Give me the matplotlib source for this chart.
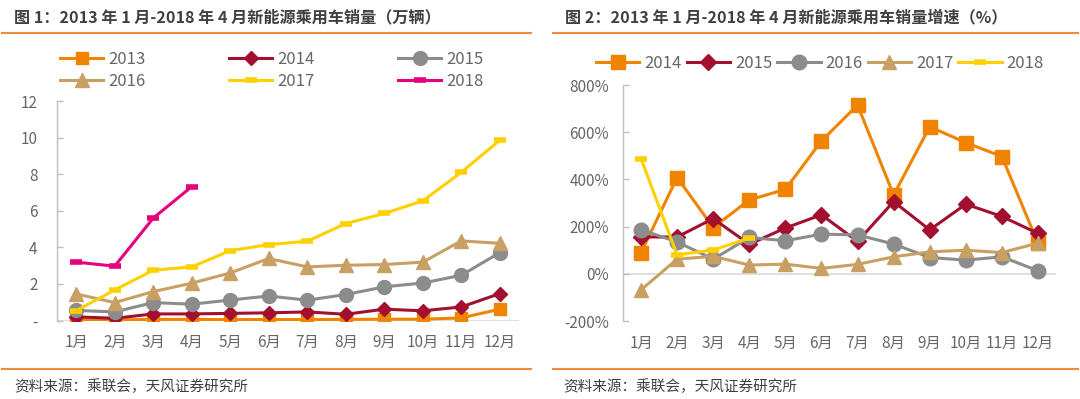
import matplotlib
matplotlib.use('Agg')
import matplotlib.pyplot as plt
from matplotlib.lines import Line2D

plt.rcParams['font.family'] = ['Noto Sans CJK SC', 'DejaVu Sans']

# ---------------- data ----------------
months = ['1月', '2月', '3月', '4月', '5月', '6月', '7月', '8月', '9月', '10月', '11月', '12月']

# Figure 1: monthly sales (10k units)
sales_2013 = [0.04, 0.03, 0.06, 0.06, 0.05, 0.05, 0.05, 0.06, 0.07, 0.07, 0.14, 0.62]
sales_2014 = [0.20, 0.12, 0.36, 0.36, 0.39, 0.42, 0.47, 0.34, 0.62, 0.53, 0.74, 1.47]
sales_2015 = [0.55, 0.47, 0.98, 0.89, 1.12, 1.34, 1.11, 1.42, 1.84, 2.05, 2.47, 3.71]
sales_2016 = [1.45, 0.98, 1.58, 2.04, 2.60, 3.39, 2.93, 3.02, 3.06, 3.19, 4.35, 4.22]
sales_2017 = [0.54, 1.67, 2.75, 2.93, 3.82, 4.15, 4.33, 5.30, 5.85, 6.54, 8.10, 9.85]
sales_2018 = [3.19, 2.97, 5.60, 7.32]
left_yticks = [0, 2, 4, 6, 8, 10, 12]
left_yticklabels = ['-', '2', '4', '6', '8', '10', '12']

# Figure 2: growth rate (%)
growth_2014 = [90, 408, 196, 313, 358, 563, 715, 334, 623, 556, 497, 130]
growth_2015 = [156, 156, 234, 125, 194, 250, 137, 306, 186, 295, 243, 171]
growth_2016 = [187, 135, 62, 154, 140, 168, 165, 126, 69, 58, 72, 13]
growth_2017 = [-68, 62, 74, 37, 41, 23, 40, 72, 93, 100, 90, 130]
growth_2018 = [488, 80, 101, 151]
right_yticks = [-200, 0, 200, 400, 600, 800]
right_yticklabels = ['-200%', '0%', '200%', '400%', '600%', '800%']

# ---------------- styles ----------------
C_ORANGE = '#F08300'
C_RED = '#A3102F'
C_GREY = '#8C8C8C'
C_TAN = '#C9A063'
C_YELLOW = '#FFD000'
C_PINK = '#E6007E'
C_TEXT = '#666666'
C_TITLE = '#404040'
C_RULE = '#EE8B3E'

W, H = 1080, 399
fig = plt.figure(figsize=(W / 100, H / 100), dpi=100)


def fx(px):
    return px / W


def fy(py):
    return 1 - py / H


def style_axes(ax, pad_y):
    for s in ['top', 'right', 'bottom']:
        ax.spines[s].set_visible(False)
    ax.spines['left'].set_color('#BFBFBF')
    ax.spines['left'].set_linewidth(1.0)
    ax.tick_params(axis='y', direction='in', length=4, width=1, color='#BFBFBF',
                   labelsize=11, labelcolor=C_TEXT, pad=pad_y)
    ax.tick_params(axis='x', length=0, labelsize=11, labelcolor=C_TEXT, pad=10)
    ax.set_xlim(0.5, 12.5)


x = list(range(1, 13))

# ---------------- left chart ----------------
axL = fig.add_axes([fx(57), fy(320.5), fx(519 - 57), (320.5 - 101) / H])
style_axes(axL, 14)
axL.set_ylim(0, 12)
axL.axhline(0, color='#D9D9D9', lw=1.2, zorder=1)
axL.set_yticks(left_yticks)
axL.set_yticklabels(left_yticklabels)
axL.set_xticks(x)
axL.set_xticklabels(months)

lw = 2.2
l13, = axL.plot(x, sales_2013, color=C_ORANGE, lw=lw, marker='s', ms=8.5, label='2013', zorder=3)
l14, = axL.plot(x, sales_2014, color=C_RED, lw=lw, marker='D', ms=7.5, label='2014', zorder=3)
l15, = axL.plot(x, sales_2015, color=C_GREY, lw=lw, marker='o', ms=10, label='2015', zorder=3)
l16, = axL.plot(x, sales_2016, color=C_TAN, lw=lw, marker='^', ms=10, label='2016', zorder=3)
l17, = axL.plot(x, sales_2017, color=C_YELLOW, lw=lw, marker='_', ms=9, mew=4, label='2017', zorder=3)
l18, = axL.plot(x[:len(sales_2018)], sales_2018, color=C_PINK, lw=lw, marker='_', ms=8, mew=4,
                label='2018', zorder=3)

handlesL = [l13, l16, l14, l17, l15, l18]
fig.legend(handles=handlesL, labels=[h.get_label() for h in handlesL], ncol=3,
           loc='upper left', bbox_to_anchor=(fx(60), fy(51)), frameon=False,
           fontsize=12, labelcolor=C_TEXT, handlelength=2.6, handletextpad=0.3,
           columnspacing=5.0, labelspacing=0.3, borderaxespad=0, borderpad=0)

# ---------------- right chart ----------------
axR = fig.add_axes([fx(623), fy(321), fx(1056 - 623), (321 - 85) / H])
style_axes(axR, 10)
axR.set_ylim(-200, 800)
axR.axhline(0, color='#D9D9D9', lw=1.2, zorder=1)
axR.set_yticks(right_yticks)
axR.set_yticklabels(right_yticklabels)
axR.set_xticks(x)
axR.set_xticklabels(months)

r14, = axR.plot(x, growth_2014, color=C_ORANGE, lw=lw, marker='s', ms=10, label='2014', zorder=3)
r15, = axR.plot(x, growth_2015, color=C_RED, lw=lw, marker='D', ms=8.5, label='2015', zorder=3)
r16, = axR.plot(x, growth_2016, color=C_GREY, lw=lw, marker='o', ms=10.5, label='2016', zorder=3)
r17, = axR.plot(x, growth_2017, color=C_TAN, lw=lw, marker='^', ms=10.5, label='2017', zorder=3)
r18, = axR.plot(x[:len(growth_2018)], growth_2018, color=C_YELLOW, lw=lw, marker='_', ms=9, mew=4,
                label='2018', zorder=3)

handlesR = [r14, r15, r16, r17, r18]
fig.legend(handles=handlesR, labels=[h.get_label() for h in handlesR], ncol=5,
           loc='upper left', bbox_to_anchor=(fx(596), fy(55)), frameon=False,
           fontsize=12, labelcolor=C_TEXT, handlelength=2.6, handletextpad=0.3,
           columnspacing=0.3, borderaxespad=0, borderpad=0)

# ---------------- titles, rules, sources ----------------
fig.text(fx(14), fy(17), '图 1：2013 年 1 月-2018 年 4 月新能源乘用车销量（万辆）',
         fontsize=11.6, fontweight='bold', color=C_TITLE, va='center', ha='left')
fig.text(fx(565), fy(17), '图 2：2013 年 1 月-2018 年 4 月新能源乘用车销量增速（%）',
         fontsize=11.6, fontweight='bold', color=C_TITLE, va='center', ha='left')

for x0, x1 in [(2, 531), (553, 1078)]:
    for yy in (33, 369):
        fig.add_artist(Line2D([fx(x0), fx(x1)], [fy(yy), fy(yy)], color=C_RULE, lw=1.5,
                              transform=fig.transFigure))

fig.text(fx(14), fy(387), '资料来源：乘联会，天风证券研究所', fontsize=10.5, color=C_TITLE,
         va='center', ha='left')
fig.text(fx(563), fy(387), '资料来源：乘联会，天风证券研究所', fontsize=10.5, color=C_TITLE,
         va='center', ha='left')

fig.savefig('out.png', dpi=100)
